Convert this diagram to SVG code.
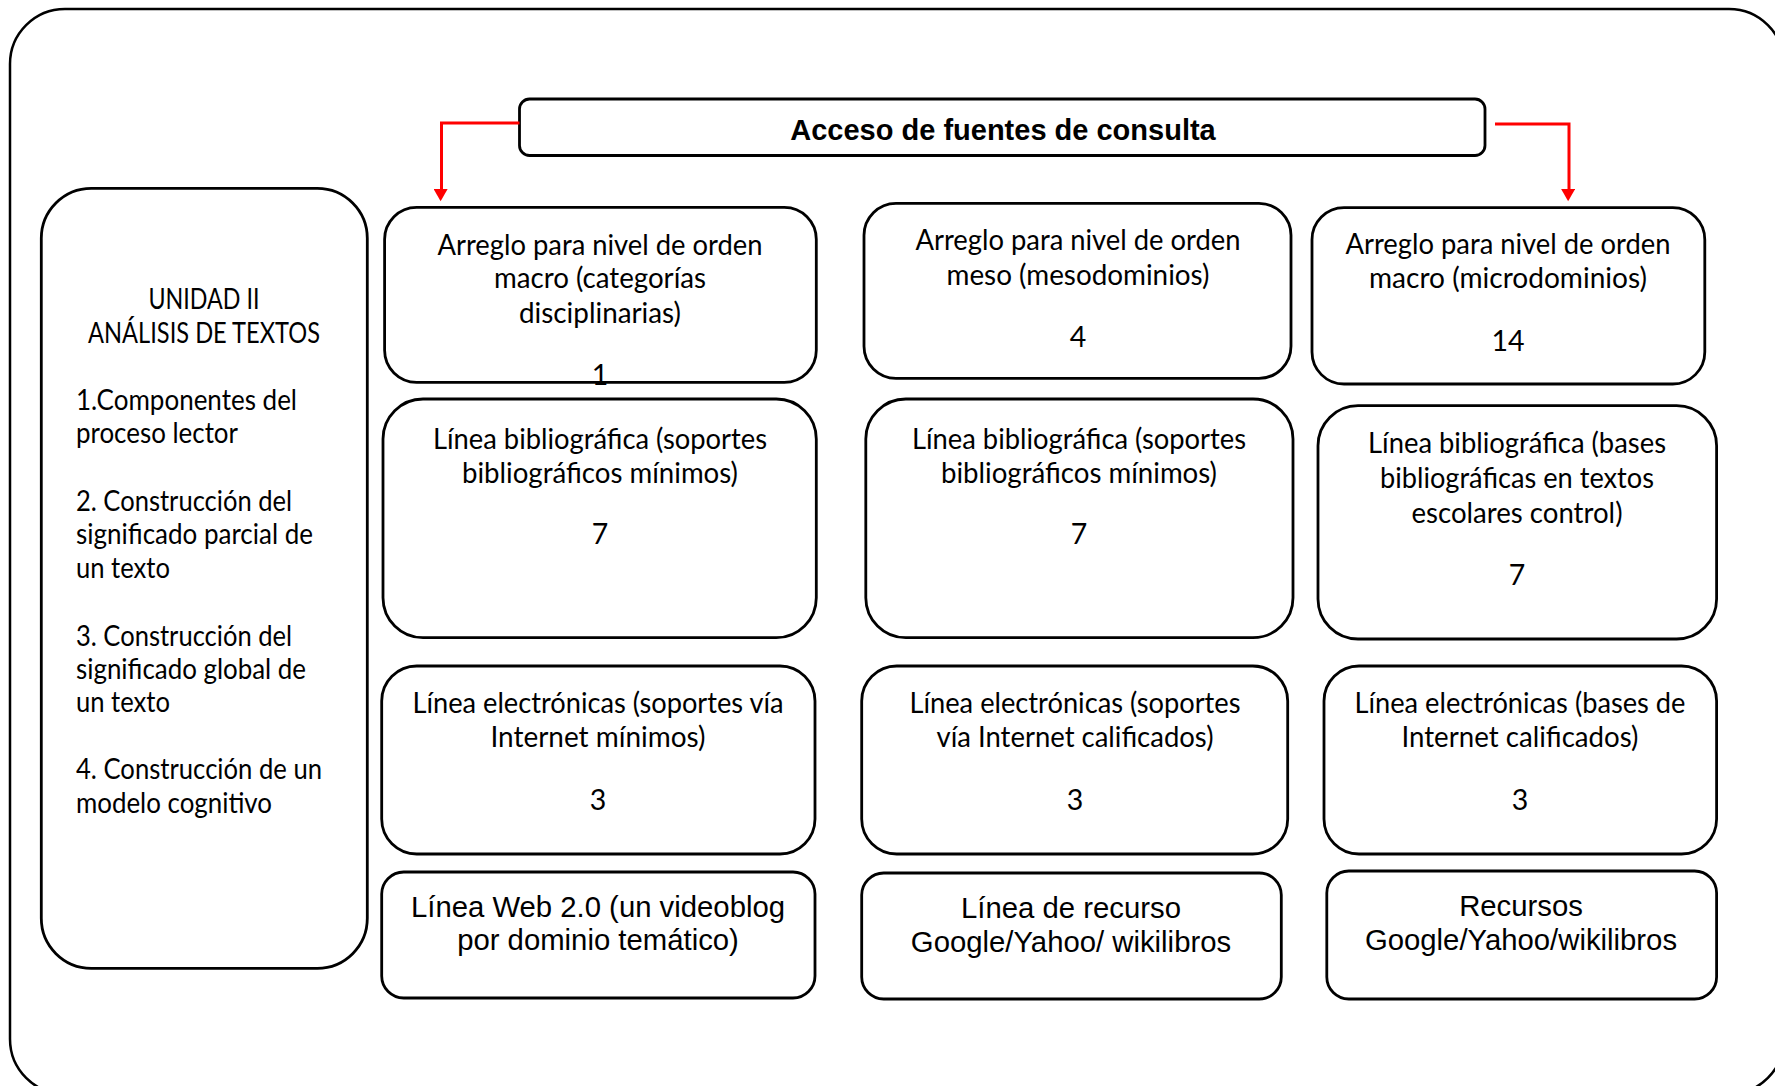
<svg xmlns="http://www.w3.org/2000/svg" width="1775" height="1086" viewBox="0 0 1775 1086">
<style>
.box{fill:#fff;stroke:#000;stroke-width:2.8}
.c{font-family:Lato,"Open Sans",sans-serif;font-size:28.5px;fill:#000;text-anchor:middle}
.l{font-family:Lato,"Open Sans",sans-serif;font-size:28.5px;fill:#000}
.a{font-family:"Liberation Sans",Arial,sans-serif;font-size:29.3px;fill:#000;text-anchor:middle}
.t{font-family:"Liberation Sans",Arial,sans-serif;font-size:29px;font-weight:bold;fill:#000;text-anchor:middle}
.red{fill:none;stroke:#f00;stroke-width:3}
</style>
<defs>
<marker id="ah" markerWidth="16" markerHeight="14" refX="0" refY="7" orient="auto" markerUnits="userSpaceOnUse" viewBox="0 0 14 16">
<path d="M0,0 L14,8 L0,16 Z" fill="#f00"/>
</marker>
</defs>
<rect x="0" y="0" width="1775" height="1086" fill="#fff"/>
<rect id="frame" x="10" y="9" width="1774" height="1085" rx="55" fill="none" stroke="#000" stroke-width="2.5"/>

<g id="title">
<rect class="box" x="519.5" y="99" width="965.5" height="56.5" rx="10"/>
<text class="t" x="1003" y="140">Acceso de fuentes de consulta</text>
</g>

<g id="unidad">
<rect class="box" x="41.3" y="188.3" width="326" height="780" rx="50"/>
<text class="c" x="204" y="309" textLength="111" lengthAdjust="spacingAndGlyphs">UNIDAD II</text>
<text class="c" x="204" y="342.5" textLength="232" lengthAdjust="spacingAndGlyphs">ANÁLISIS DE TEXTOS</text>
<text class="l" x="76" y="409.5" textLength="221" lengthAdjust="spacingAndGlyphs">1.Componentes del</text>
<text class="l" x="76" y="442.5" textLength="162" lengthAdjust="spacingAndGlyphs">proceso lector</text>
<text class="l" x="76" y="511" textLength="216" lengthAdjust="spacingAndGlyphs">2. Construcción del</text>
<text class="l" x="76" y="544" textLength="237" lengthAdjust="spacingAndGlyphs">significado parcial de</text>
<text class="l" x="76" y="577.5" textLength="94" lengthAdjust="spacingAndGlyphs">un texto</text>
<text class="l" x="76" y="645.5" textLength="216" lengthAdjust="spacingAndGlyphs">3. Construcción del</text>
<text class="l" x="76" y="678.5" textLength="230" lengthAdjust="spacingAndGlyphs">significado global de</text>
<text class="l" x="76" y="711.5" textLength="94" lengthAdjust="spacingAndGlyphs">un texto</text>
<text class="l" x="76" y="779" textLength="246" lengthAdjust="spacingAndGlyphs">4. Construcción de un</text>
<text class="l" x="76" y="812.5" textLength="196" lengthAdjust="spacingAndGlyphs">modelo cognitivo</text>
</g>

<g id="macro">
<rect class="box" x="384.6" y="207.3" width="431.7" height="175" rx="32"/>
<text class="c" x="600" y="255" textLength="325" lengthAdjust="spacingAndGlyphs">Arreglo para nivel de orden</text>
<text class="c" x="600" y="288.3" textLength="212" lengthAdjust="spacingAndGlyphs">macro (categorías</text>
<text class="c" x="600" y="323.3" textLength="162" lengthAdjust="spacingAndGlyphs">disciplinarias)</text>
<text class="c" x="600" y="385">1</text>
</g>

<g id="meso">
<rect class="box" x="864" y="203.3" width="427" height="175" rx="32"/>
<text class="c" x="1078" y="250" textLength="325" lengthAdjust="spacingAndGlyphs">Arreglo para nivel de orden</text>
<text class="c" x="1078" y="285" textLength="263" lengthAdjust="spacingAndGlyphs">meso (mesodominios)</text>
<text class="c" x="1078" y="346.7">4</text>
</g>

<g id="micro">
<rect class="box" x="1312" y="207.7" width="392.8" height="176.3" rx="32"/>
<text class="c" x="1508" y="254" textLength="325" lengthAdjust="spacingAndGlyphs">Arreglo para nivel de orden</text>
<text class="c" x="1508" y="288.3" textLength="278" lengthAdjust="spacingAndGlyphs">macro (microdominios)</text>
<text class="c" x="1508" y="350.7">14</text>
</g>

<g id="biblio1">
<rect class="box" x="383" y="399" width="433.3" height="238.7" rx="40"/>
<text class="c" x="600" y="448.5" textLength="334" lengthAdjust="spacingAndGlyphs">Línea bibliográfica (soportes</text>
<text class="c" x="600" y="482.7" textLength="276" lengthAdjust="spacingAndGlyphs">bibliográficos mínimos)</text>
<text class="c" x="600" y="544.4">7</text>
</g>

<g id="biblio2">
<rect class="box" x="865.8" y="399" width="427.2" height="238.7" rx="40"/>
<text class="c" x="1079" y="448.5" textLength="334" lengthAdjust="spacingAndGlyphs">Línea bibliográfica (soportes</text>
<text class="c" x="1079" y="482.7" textLength="276" lengthAdjust="spacingAndGlyphs">bibliográficos mínimos)</text>
<text class="c" x="1079" y="544.4">7</text>
</g>

<g id="biblio3">
<rect class="box" x="1318" y="405.7" width="398.6" height="233.3" rx="40"/>
<text class="c" x="1517" y="453.4" textLength="298" lengthAdjust="spacingAndGlyphs">Línea bibliográfica (bases</text>
<text class="c" x="1517" y="488" textLength="274" lengthAdjust="spacingAndGlyphs">bibliográficas en textos</text>
<text class="c" x="1517" y="523" textLength="211" lengthAdjust="spacingAndGlyphs">escolares control)</text>
<text class="c" x="1517" y="585">7</text>
</g>

<g id="elec1">
<rect class="box" x="381.7" y="666" width="433.3" height="188" rx="35"/>
<text class="c" x="598" y="713" textLength="371" lengthAdjust="spacingAndGlyphs">Línea electrónicas (soportes vía</text>
<text class="c" x="598" y="747" textLength="215" lengthAdjust="spacingAndGlyphs">Internet mínimos)</text>
<text class="c" x="598" y="810">3</text>
</g>

<g id="elec2">
<rect class="box" x="861.7" y="666" width="426" height="188" rx="35"/>
<text class="c" x="1075" y="713" textLength="331" lengthAdjust="spacingAndGlyphs">Línea electrónicas (soportes</text>
<text class="c" x="1075" y="747" textLength="277" lengthAdjust="spacingAndGlyphs">vía Internet calificados)</text>
<text class="c" x="1075" y="810">3</text>
</g>

<g id="elec3">
<rect class="box" x="1324" y="666" width="392.6" height="188" rx="35"/>
<text class="c" x="1520" y="713" textLength="331" lengthAdjust="spacingAndGlyphs">Línea electrónicas (bases de</text>
<text class="c" x="1520" y="747" textLength="237" lengthAdjust="spacingAndGlyphs">Internet calificados)</text>
<text class="c" x="1520" y="810">3</text>
</g>

<g id="web">
<rect class="box" x="381.7" y="872" width="433.3" height="126" rx="22"/>
<text class="a" x="598" y="917">Línea Web 2.0 (un videoblog</text>
<text class="a" x="598" y="950">por dominio temático)</text>
</g>

<g id="recurso">
<rect class="box" x="861.7" y="873" width="419.6" height="126" rx="22"/>
<text class="a" x="1071" y="918">Línea de recurso</text>
<text class="a" x="1071" y="952">Google/Yahoo/ wikilibros</text>
</g>

<g id="recursos">
<rect class="box" x="1326.8" y="871" width="389.8" height="128" rx="22"/>
<text class="a" x="1521" y="916">Recursos</text>
<text class="a" x="1521" y="950">Google/Yahoo/wikilibros</text>
</g>

<g id="connectors">
<path class="red" d="M519.5,123 H441.5 V189" marker-end="url(#ah)"/>
<path class="red" d="M1495,124 H1569 V189" marker-end="url(#ah)"/>
</g>
</svg>
